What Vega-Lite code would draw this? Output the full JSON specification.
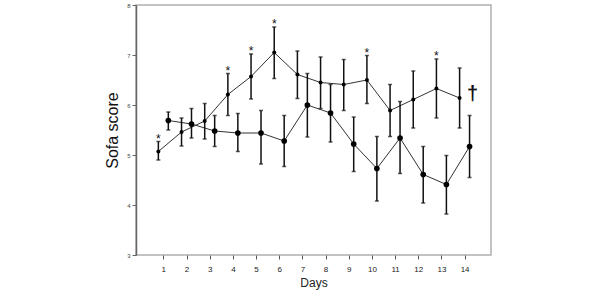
{
  "$schema": "https://vega.github.io/schema/vega-lite/v6.json",
  "width": 355,
  "height": 250,
  "autosize": {"type": "none"},
  "padding": {"left": 136, "top": 5, "right": 109, "bottom": 41},
  "background": "white",
  "config": {
    "font": "Liberation Sans",
    "view": {"stroke": "#b0b0b0", "strokeWidth": 1.5}
  },
  "data": {
    "values": [
      {"day": 1, "group": "A", "mean": 5.07, "lo": 4.90, "hi": 5.27, "note": "*"},
      {"day": 2, "group": "A", "mean": 5.46, "lo": 5.18, "hi": 5.74, "note": ""},
      {"day": 3, "group": "A", "mean": 5.68, "lo": 5.32, "hi": 6.03, "note": ""},
      {"day": 4, "group": "A", "mean": 6.21, "lo": 5.79, "hi": 6.63, "note": "*"},
      {"day": 5, "group": "A", "mean": 6.57, "lo": 6.12, "hi": 7.02, "note": "*"},
      {"day": 6, "group": "A", "mean": 7.05, "lo": 6.53, "hi": 7.56, "note": "*"},
      {"day": 7, "group": "A", "mean": 6.61, "lo": 6.13, "hi": 7.08, "note": ""},
      {"day": 8, "group": "A", "mean": 6.45, "lo": 5.93, "hi": 6.96, "note": ""},
      {"day": 9, "group": "A", "mean": 6.41, "lo": 5.89, "hi": 6.91, "note": ""},
      {"day": 10, "group": "A", "mean": 6.50, "lo": 6.03, "hi": 6.99, "note": "*"},
      {"day": 11, "group": "A", "mean": 5.89, "lo": 5.37, "hi": 6.41, "note": ""},
      {"day": 12, "group": "A", "mean": 6.11, "lo": 5.54, "hi": 6.68, "note": ""},
      {"day": 13, "group": "A", "mean": 6.33, "lo": 5.74, "hi": 6.92, "note": "*"},
      {"day": 14, "group": "A", "mean": 6.14, "lo": 5.54, "hi": 6.74, "note": ""},
      {"day": 1, "group": "B", "mean": 5.69, "lo": 5.50, "hi": 5.86, "note": ""},
      {"day": 2, "group": "B", "mean": 5.62, "lo": 5.34, "hi": 5.93, "note": ""},
      {"day": 3, "group": "B", "mean": 5.48, "lo": 5.17, "hi": 5.79, "note": ""},
      {"day": 4, "group": "B", "mean": 5.44, "lo": 5.07, "hi": 5.83, "note": ""},
      {"day": 5, "group": "B", "mean": 5.44, "lo": 4.82, "hi": 5.89, "note": ""},
      {"day": 6, "group": "B", "mean": 5.28, "lo": 4.77, "hi": 5.79, "note": ""},
      {"day": 7, "group": "B", "mean": 6.00, "lo": 5.36, "hi": 6.63, "note": ""},
      {"day": 8, "group": "B", "mean": 5.84, "lo": 5.26, "hi": 6.41, "note": ""},
      {"day": 9, "group": "B", "mean": 5.22, "lo": 4.67, "hi": 5.76, "note": ""},
      {"day": 10, "group": "B", "mean": 4.73, "lo": 4.08, "hi": 5.37, "note": ""},
      {"day": 11, "group": "B", "mean": 5.34, "lo": 4.63, "hi": 6.07, "note": ""},
      {"day": 12, "group": "B", "mean": 4.61, "lo": 4.04, "hi": 5.17, "note": ""},
      {"day": 13, "group": "B", "mean": 4.41, "lo": 3.82, "hi": 4.99, "note": ""},
      {"day": 14, "group": "B", "mean": 5.17, "lo": 4.55, "hi": 5.79, "note": ""}
    ]
  },
  "transform": [
    {"calculate": "datum.day + (datum.group == 'A' ? -0.215 : 0.215)", "as": "xpos"}
  ],
  "encoding": {
    "x": {
      "field": "xpos",
      "type": "quantitative",
      "scale": {"domain": [-0.18, 15.14], "nice": false, "zero": false},
      "axis": {
        "title": "Days",
        "values": [1,2,3,4,5,6,7,8,9,10,11,12,13,14],
        "grid": false,
        "domain": false,
        "tickColor": "#555",
        "tickSize": 4,
        "labelFontSize": 8,
        "labelColor": "#222",
        "labelPadding": 6,
        "titleFontSize": 12,
        "titleFontWeight": "normal",
        "titleColor": "#222",
        "titlePadding": 4
      }
    }
  },
  "layer": [
    {
      "mark": {"type": "line", "stroke": "#333", "strokeWidth": 1},
      "encoding": {
        "y": {
          "field": "mean",
          "type": "quantitative",
          "scale": {"domain": [3, 8], "nice": false, "zero": false},
          "axis": {
            "title": "Sofa score",
            "values": [3,4,5,6,7,8],
            "grid": false,
            "domainColor": "#666",
            "domainWidth": 1.5,
            "tickColor": "#666",
            "tickSize": 4,
            "labelFontSize": 6,
            "labelColor": "#444",
            "labelPadding": 2,
            "titleFontSize": 16,
            "titleFontWeight": "normal",
            "titleColor": "#111",
            "titlePadding": 6
          }
        },
        "detail": {"field": "group"}
      }
    },
    {
      "mark": {"type": "rule", "stroke": "#111", "strokeWidth": 1.5},
      "encoding": {
        "y": {"field": "lo", "type": "quantitative"},
        "y2": {"field": "hi"}
      }
    },
    {
      "mark": {"type": "tick", "orient": "horizontal", "color": "#111", "size": 4, "thickness": 1.5},
      "encoding": {"y": {"field": "lo", "type": "quantitative"}}
    },
    {
      "mark": {"type": "tick", "orient": "horizontal", "color": "#111", "size": 4, "thickness": 1.5},
      "encoding": {"y": {"field": "hi", "type": "quantitative"}}
    },
    {
      "mark": {"type": "point", "filled": true, "opacity": 1, "color": "#000"},
      "encoding": {
        "y": {"field": "mean", "type": "quantitative"},
        "size": {
          "field": "group",
          "type": "nominal",
          "scale": {"domain": ["A", "B"], "range": [16, 32]},
          "legend": null
        }
      }
    },
    {
      "transform": [{"filter": "datum.note == '*'"}],
      "mark": {"type": "text", "fontSize": 12, "baseline": "alphabetic", "align": "center", "color": "#111", "dy": 1},
      "encoding": {
        "y": {"field": "hi", "type": "quantitative"},
        "text": {"field": "note"}
      }
    },
    {
      "transform": [{"filter": "datum.group == 'A' && datum.day == 14"}],
      "mark": {"type": "text", "fontSize": 20, "fontWeight": "bold", "baseline": "middle", "align": "center", "color": "#111", "dx": 13, "dy": -4, "text": "†"},
      "encoding": {
        "y": {"field": "mean", "type": "quantitative"}
      }
    }
  ]
}
